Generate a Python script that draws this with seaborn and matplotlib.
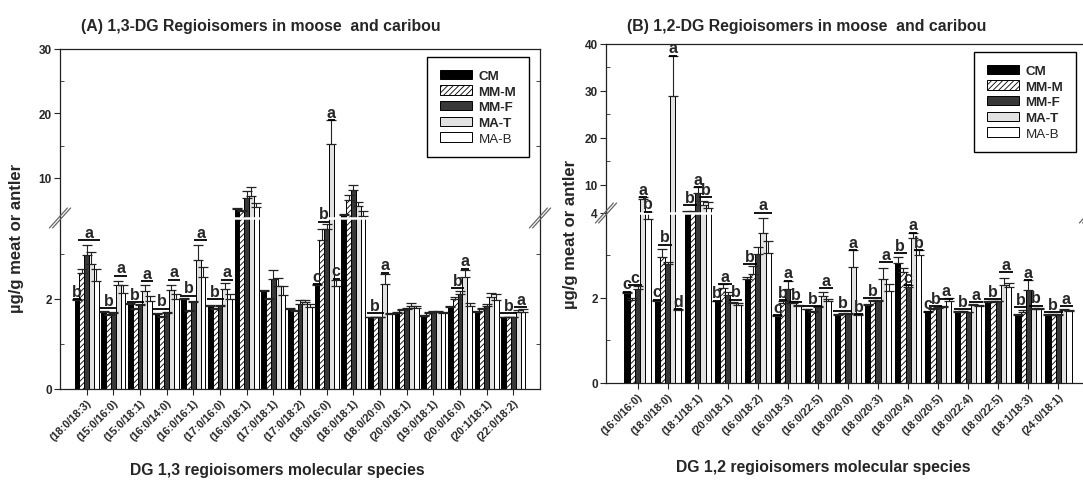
import numpy as np
import pandas as pd
import matplotlib
matplotlib.use("Agg")
import matplotlib.pyplot as plt
import seaborn as sns
from matplotlib.patches import Patch
from matplotlib.ticker import FixedLocator

sns.set_style("white")
plt.rcParams["font.family"] = ["Liberation Sans", "DejaVu Sans"]
plt.rcParams["hatch.linewidth"] = 0.6

groups = ["CM", "MM-M", "MM-F", "MA-T", "MA-B"]
colors = ["#000000", "#ffffff", "#383838", "#e2e2e2", "#ffffff"]
hatches = ["", "//////", "", "", ""]

# ---------------- Panel A : 1,3-DG ----------------
cats_a = ["(18:0/18:3)", "(15:0/16:0)", "(15:0/18:1)", "(16:0/14:0)", "(16:0/16:1)",
          "(17:0/16:0)", "(16:0/18:1)", "(17:0/18:1)", "(17:0/18:2)", "(18:0/16:0)",
          "(18:0/18:1)", "(18:0/20:0)", "(20:0/18:1)", "(19:0/18:1)", "(20:0/16:0)",
          "(20:1/18:1)", "(22:0/18:2)"]
cm_a = [1.98, 1.72, 1.89, 1.66, 2.00, 1.84, 5.20, 2.17, 1.78, 2.31, 4.26, 1.59, 1.68, 1.62, 1.83, 1.72, 1.60]
mmm_a = [2.58, 1.64, 1.77, 1.61, 1.73, 1.78, 4.84, 1.99, 1.73, 3.30, 6.64, 1.59, 1.75, 1.68, 2.00, 1.78, 1.60]
mmf_a = [2.97, 1.68, 1.86, 1.68, 1.93, 1.84, 6.95, 2.44, 1.88, 3.55, 8.19, 1.59, 1.77, 1.72, 2.10, 1.85, 1.60]
mat_a = [2.77, 2.30, 2.17, 2.20, 2.86, 2.23, 7.16, 2.28, 1.93, 15.3, 5.61, 2.34, 1.85, 1.72, 2.48, 2.05, 1.72]
mab_a = [2.41, 2.14, 1.95, 2.00, 2.48, 2.00, 5.46, 2.09, 1.83, 2.28, 4.16, 1.66, 1.80, 1.68, 1.85, 1.98, 1.72]
e_cm_a = [0.02, 0.02, 0.03, 0.02, 0.03, 0.03, 0.15, 0.03, 0.02, 0.03, 0.10, 0.01, 0.02, 0.02, 0.02, 0.02, 0.01]
e_mmm_a = [0.08, 0.02, 0.03, 0.02, 0.03, 0.03, 0.15, 0.03, 0.02, 0.25, 0.72, 0.01, 0.03, 0.02, 0.05, 0.03, 0.01]
e_mmf_a = [0.23, 0.02, 0.03, 0.02, 0.03, 0.03, 1.03, 0.21, 0.10, 0.11, 0.77, 0.01, 0.03, 0.02, 0.08, 0.04, 0.01]
e_mat_a = [0.28, 0.10, 0.14, 0.10, 0.34, 0.13, 1.49, 0.18, 0.05, 3.70, 0.62, 0.22, 0.05, 0.02, 0.17, 0.08, 0.03]
e_mab_a = [0.26, 0.16, 0.12, 0.10, 0.22, 0.12, 0.71, 0.19, 0.05, 0.15, 0.77, 0.02, 0.05, 0.02, 0.05, 0.12, 0.05]
# (category, first bar, last bar, level, letter)
lett_a = [(0, 0, 0, 2.00, "b"), (0, 1, 4, 3.30, "a"),
          (1, 0, 2, 1.80, "b"), (1, 3, 4, 2.52, "a"),
          (2, 0, 2, 1.93, "b"), (2, 3, 4, 2.40, "a"),
          (3, 0, 2, 1.78, "b"), (3, 3, 4, 2.43, "a"),
          (4, 0, 2, 2.07, "b"), (4, 3, 4, 3.30, "a"),
          (5, 0, 2, 2.00, "b"), (5, 3, 4, 2.43, "a"),
          (9, 0, 0, 2.33, "c"), (9, 1, 2, 3.72, "b"), (9, 3, 3, 19.0, "a"), (9, 4, 4, 2.45, "c"),
          (11, 0, 2, 1.68, "b"), (11, 3, 3, 2.58, "a"),
          (14, 1, 2, 2.24, "b"), (14, 3, 3, 2.67, "a"),
          (16, 0, 2, 1.68, "b"), (16, 3, 4, 1.82, "a")]

# ---------------- Panel B : 1,2-DG ----------------
cats_b = ["(16:0/16:0)", "(18:0/18:0)", "(18:1/18:1)", "(20:0/18:1)", "(16:0/18:2)",
          "(16:0/18:3)", "(16:0/22:5)", "(18:0/20:0)", "(18:0/20:3)", "(18:0/20:4)",
          "(18:0/20:5)", "(18:0/22:4)", "(18:0/22:5)", "(18:1/18:3)", "(24:0/18:1)"]
cm_b = [2.12, 1.94, 4.25, 1.92, 2.44, 1.57, 1.73, 1.60, 1.84, 2.83, 1.67, 1.68, 1.90, 1.60, 1.60]
mmm_b = [1.96, 2.97, 4.30, 2.24, 2.57, 1.88, 1.68, 1.63, 1.93, 2.61, 1.75, 1.68, 1.90, 1.68, 1.60]
mmf_b = [2.21, 2.81, 8.20, 2.08, 3.03, 2.22, 1.78, 1.63, 1.93, 2.27, 1.76, 1.66, 1.92, 2.19, 1.60]
mat_b = [7.00, 29.0, 5.74, 1.88, 3.52, 1.89, 2.04, 2.72, 2.45, 3.40, 1.78, 1.83, 2.31, 1.75, 1.72]
mab_b = [3.86, 1.72, 5.04, 1.84, 3.05, 1.80, 1.93, 1.60, 2.16, 3.00, 1.92, 1.80, 2.25, 1.75, 1.70]
e_cm_b = [0.03, 0.02, 0.10, 0.02, 0.05, 0.02, 0.02, 0.02, 0.02, 0.13, 0.02, 0.02, 0.02, 0.02, 0.02]
e_mmm_b = [0.03, 0.18, 0.10, 0.09, 0.18, 0.04, 0.02, 0.02, 0.03, 0.10, 0.02, 0.02, 0.02, 0.03, 0.02]
e_mmf_b = [0.07, 0.03, 1.30, 0.06, 0.17, 0.19, 0.02, 0.02, 0.02, 0.03, 0.02, 0.02, 0.02, 0.23, 0.02]
e_mat_b = [0.40, 8.50, 0.71, 0.03, 0.37, 0.04, 0.10, 0.40, 0.25, 0.14, 0.03, 0.04, 0.16, 0.02, 0.02]
e_mab_b = [0.44, 0.02, 1.40, 0.05, 0.28, 0.03, 0.04, 0.02, 0.17, 0.12, 0.08, 0.03, 0.10, 0.02, 0.02]
lett_b = [(0, 0, 0, 2.15, "c"), (0, 1, 2, 2.30, "c"), (0, 3, 3, 7.4, "a"), (0, 4, 4, 4.30, "b"),
          (1, 0, 0, 1.96, "c"), (1, 1, 2, 3.25, "b"), (1, 3, 3, 37.5, "a"), (1, 4, 4, 1.74, "d"),
          (2, 0, 1, 5.60, "b"), (2, 2, 2, 9.50, "a"), (2, 3, 4, 7.40, "b"),
          (3, 0, 0, 1.94, "b"), (3, 1, 2, 2.32, "a"), (3, 3, 4, 1.96, "b"),
          (4, 0, 1, 2.79, "b"), (4, 2, 4, 4.04, "a"),
          (5, 0, 0, 1.60, "c"), (5, 1, 1, 1.95, "b"), (5, 2, 2, 2.41, "a"), (5, 3, 4, 1.90, "b"),
          (6, 0, 2, 1.80, "b"), (6, 3, 4, 2.23, "a"),
          (7, 0, 2, 1.70, "b"), (7, 3, 3, 3.12, "a"), (7, 4, 4, 1.62, "b"),
          (8, 0, 2, 2.00, "b"), (8, 3, 4, 2.84, "a"),
          (9, 0, 1, 3.06, "b"), (9, 2, 2, 2.30, "c"), (9, 3, 3, 3.54, "a"), (9, 4, 4, 3.12, "b"),
          (10, 0, 0, 1.68, "c"), (10, 1, 2, 1.80, "b"), (10, 3, 4, 1.98, "a"),
          (11, 0, 2, 1.74, "b"), (11, 3, 4, 1.90, "a"),
          (12, 0, 2, 1.97, "b"), (12, 3, 4, 2.60, "a"),
          (13, 0, 1, 1.78, "b"), (13, 2, 2, 2.42, "a"), (13, 3, 4, 1.82, "b"),
          (14, 0, 2, 1.66, "b"), (14, 3, 4, 1.80, "a")]


def long_df(cats, series):
    rows = []
    for g, vals in zip(groups, series):
        for c, v in zip(cats, vals):
            rows.append({"cat": c, "grp": g, "val": v})
    return pd.DataFrame(rows)


def make_scale(brk, top, frac):
    def fwd(v):
        v = np.asarray(v, dtype=float)
        return np.where(v <= brk, v / brk * frac, frac + (v - brk) / (top - brk) * (1 - frac))

    def inv(t):
        t = np.asarray(t, dtype=float)
        return np.where(t <= frac, t / frac * brk, brk + (t - frac) / (1 - frac) * (top - brk))
    return fwd, inv


def panel(ax, cats, series, errs, letters, brk, top, frac, majors, minors, xlim, width):
    df = long_df(cats, series)
    sns.barplot(data=df, x="cat", y="val", hue="grp", order=cats, hue_order=groups,
                palette=colors, saturation=1, width=width, edgecolor="black",
                linewidth=0.7, errorbar=None, legend=False, ax=ax, zorder=2)
    bars = list(ax.containers)
    for k, cont in enumerate(bars):
        for p in cont.patches:
            p.set_hatch(hatches[k])
    fwd, inv = make_scale(brk, top, frac)
    ax.set_yscale("function", functions=(fwd, inv))
    ax.set_ylim(0, top)
    ax.set_xlim(*xlim)
    # error bars (upper side only)
    for k, cont in enumerate(bars):
        xs = [p.get_x() + p.get_width() / 2 for p in cont.patches]
        hs = [p.get_height() for p in cont.patches]
        e = np.asarray(errs[k])
        ax.errorbar(xs, hs, yerr=[np.zeros_like(e), e], fmt="none", ecolor="#222222",
                    elinewidth=0.8, capsize=3.4, capthick=0.9, zorder=2.2)
    # white break band
    ax.axhline(brk, color="white", lw=1.8, zorder=2.3)
    # letters with underline
    for ci, b0, b1, lv, txt in letters:
        p0 = bars[b0].patches[ci]
        p1 = bars[b1].patches[ci]
        x0 = p0.get_x() - 0.05
        x1 = p1.get_x() + p1.get_width() + 0.05
        ax.hlines(lv, x0, x1, color="black", lw=1.3, zorder=3)
        ax.annotate(txt, xy=((x0 + x1) / 2, lv), xytext=(0, 0.3), textcoords="offset points",
                    ha="center", va="bottom", fontsize=11.5, fontweight="bold", zorder=4)
    # ticks
    ax.yaxis.set_major_locator(FixedLocator(majors))
    ax.set_yticklabels([str(m) for m in majors], fontsize=8.5, fontweight="bold")
    ax.yaxis.set_minor_locator(FixedLocator(minors))
    ax.tick_params(axis="y", which="major", left=True, right=False, direction="out",
                   length=4, width=0.8, pad=2)
    ax.tick_params(axis="y", which="minor", left=True, right=True, direction="in",
                   length=3, width=0.6)
    ax.tick_params(axis="x", which="major", bottom=True, direction="out", length=4,
                   width=0.8, pad=2)
    ax.set_xticks(range(len(cats)))
    ax.set_xticklabels(cats, rotation=45, ha="right", va="top", rotation_mode="anchor",
                       fontsize=7.8, fontweight="bold")
    ax.set_xlabel("")
    ax.set_ylabel("")
    for s in ax.spines.values():
        s.set_visible(True)
        s.set_color("#222222")
        s.set_linewidth(0.9)
    # break marks on both spines
    bb = ax.get_position()
    fig = ax.figure
    wpx = bb.width * fig.get_figwidth() * fig.dpi
    hpx = bb.height * fig.get_figheight() * fig.dpi
    dx, dy = 9.0 / wpx, 10.0 / hpx
    for xs in (0.0, 1.0):
        for off in (-1.6 / wpx, 1.6 / wpx):
            ax.plot([xs - dx + off, xs + dx + off], [frac - dy, frac + dy], color="#666666",
                    lw=0.9, transform=ax.transAxes, clip_on=False, zorder=5)
    handles = [Patch(facecolor=c, edgecolor="black", hatch=h, label=g, linewidth=0.7)
               for g, c, h in zip(groups, colors, hatches)]
    return handles


fig = plt.figure(figsize=(10.83, 4.81), dpi=100)
W, H = 1083.0, 481.0
ax_a = fig.add_axes([60 / W, (H - 390) / H, 480 / W, 340 / H])
ax_b = fig.add_axes([606 / W, (H - 384) / H, 484 / W, 339 / H])

h_a = panel(ax_a, cats_a, [cm_a, mmm_a, mmf_a, mat_a, mab_a],
            [e_cm_a, e_mmm_a, e_mmf_a, e_mat_a, e_mab_a], lett_a,
            3.8, 30, 0.503, [0, 2, 10, 20, 30], [1, 3, 15, 25], (-1, 17), 0.9)
h_b = panel(ax_b, cats_b, [cm_b, mmm_b, mmf_b, mat_b, mab_b],
            [e_cm_b, e_mmm_b, e_mmf_b, e_mat_b, e_mab_b], lett_b,
            4.0, 40, 0.5015, [0, 2, 4, 10, 20, 30, 40], [1, 3, 15, 25, 35], (-1.05, 15.05), 0.87)

for ax, h, anchor in ((ax_a, h_a, (0.977, 0.976)), (ax_b, h_b, (0.971, 0.976))):
    leg = ax.legend(handles=h, loc="upper right", bbox_to_anchor=anchor, frameon=True,
                    fancybox=False, edgecolor="black", framealpha=1,
                    prop={"weight": "bold", "size": 9.6}, handlelength=2.4,
                    handleheight=0.7, labelspacing=0.25, borderpad=0.95,
                    handletextpad=0.5, borderaxespad=0)
    leg.get_frame().set_linewidth(1.0)
    leg.get_texts()[4].set_fontweight("normal")
    leg.set_zorder(6)

fig.text(261 / W, 1 - 27 / H, "(A) 1,3-DG Regioisomers in moose  and caribou",
         ha="center", va="center", fontsize=11.4, fontweight="bold")
fig.text(807 / W, 1 - 27 / H, "(B) 1,2-DG Regioisomers in moose  and caribou",
         ha="center", va="center", fontsize=11.4, fontweight="bold")
fig.text(17 / W, 1 - 238 / H, "µg/g meat or antler", rotation=90,
         ha="center", va="center", fontsize=12, fontweight="bold")
fig.text(571 / W, 1 - 234 / H, "µg/g meat or antler", rotation=90,
         ha="center", va="center", fontsize=12, fontweight="bold")
fig.text(277 / W, 1 - 471 / H, "DG 1,3 regioisomers molecular species",
         ha="center", va="center", fontsize=11.3, fontweight="bold")
fig.text(823 / W, 1 - 468 / H, "DG 1,2 regioisomers molecular species",
         ha="center", va="center", fontsize=11.3, fontweight="bold")

fig.savefig("out.png", dpi=100)
